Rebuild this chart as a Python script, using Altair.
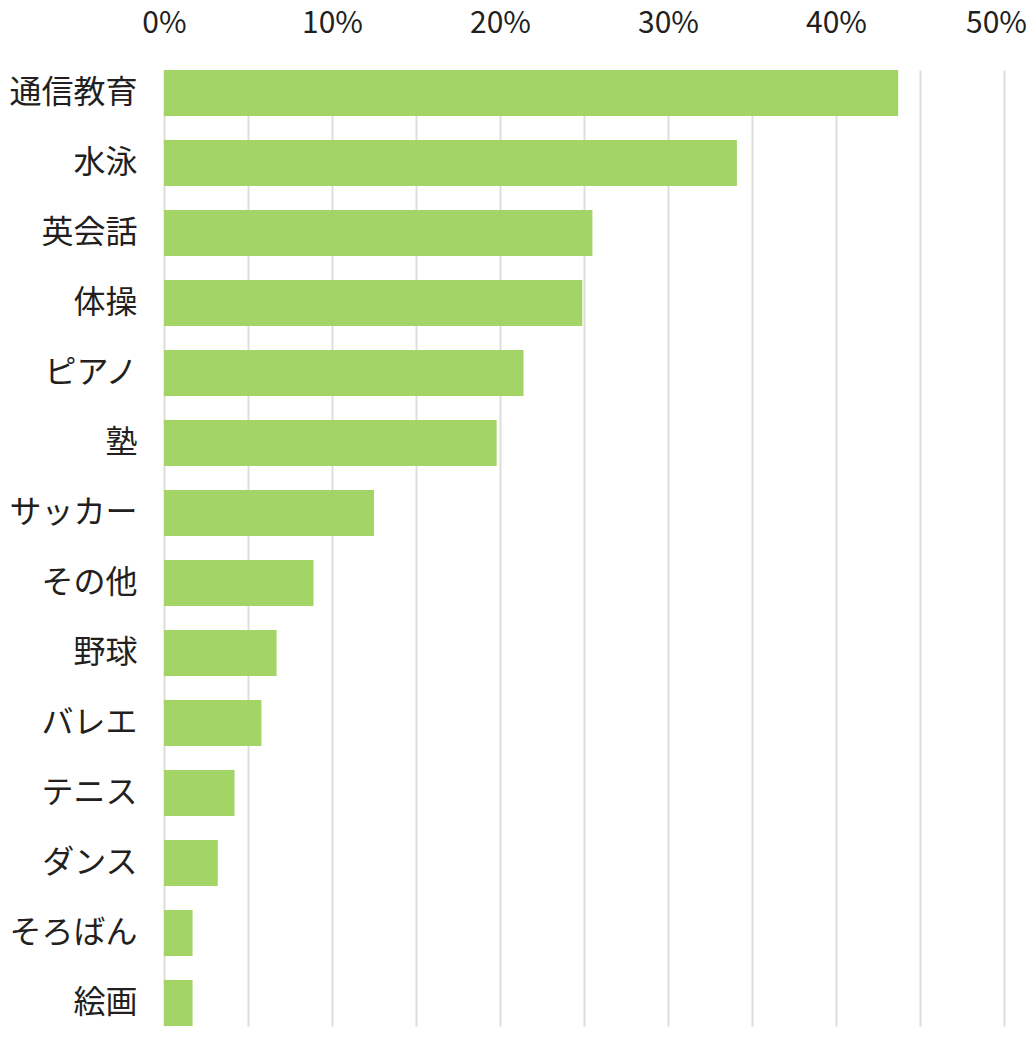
import altair as alt
import pandas as pd

categories = ["通信教育", "水泳", "英会話", "体操", "ピアノ", "塾", "サッカー",
              "その他", "野球", "バレエ", "テニス", "ダンス", "そろばん", "絵画"]
values = [43.7, 34.1, 25.5, 24.9, 21.4, 19.8, 12.5, 8.9, 6.7, 5.8, 4.2, 3.2, 1.7, 1.7]
tick_values = [0, 5, 10, 15, 20, 25, 30, 35, 40, 45, 50]

df = pd.DataFrame({"category": categories, "value": values})

FONT = "Noto Sans CJK JP"
TEXT = "#231F20"

chart = alt.Chart(df).mark_bar(color="#A2D565").encode(
    x=alt.X(
        "value:Q",
        scale=alt.Scale(domain=[0, 50], nice=False, zero=True),
        axis=alt.Axis(
            orient="top",
            values=tick_values,
            labelExpr="datum.value % 10 == 0 ? datum.value + '%' : ''",
            grid=True,
            gridColor="#DDDDDD",
            gridWidth=2,
            domain=False,
            ticks=False,
            tickSize=0,
            labelFlush=False,
            labelOverlap=False,
            labelFont=FONT,
            labelFontSize=30,
            labelColor=TEXT,
            labelPadding=2,
            labelOffset={"condition": {"test": "datum.value == 50", "value": -8}, "value": 0},
            title=None,
        ),
    ),
    y=alt.Y(
        "category:N",
        sort=categories,
        scale=alt.Scale(range=[30, 986], paddingInner=0.343, paddingOuter=0),
        axis=alt.Axis(
            domain=False,
            ticks=False,
            tickSize=0,
            labelFont=FONT,
            labelFontSize=32,
            labelColor=TEXT,
            labelPadding=27,
            title=None,
        ),
    ),
).properties(
    width=840,
    height=994,
    autosize=alt.AutoSizeParams(type="none"),
    padding={"left": 156, "top": 32, "right": 23, "bottom": 0},
).configure_view(stroke=None)

chart.save("out.html", embed_options={"renderer": "svg", "actions": False})
